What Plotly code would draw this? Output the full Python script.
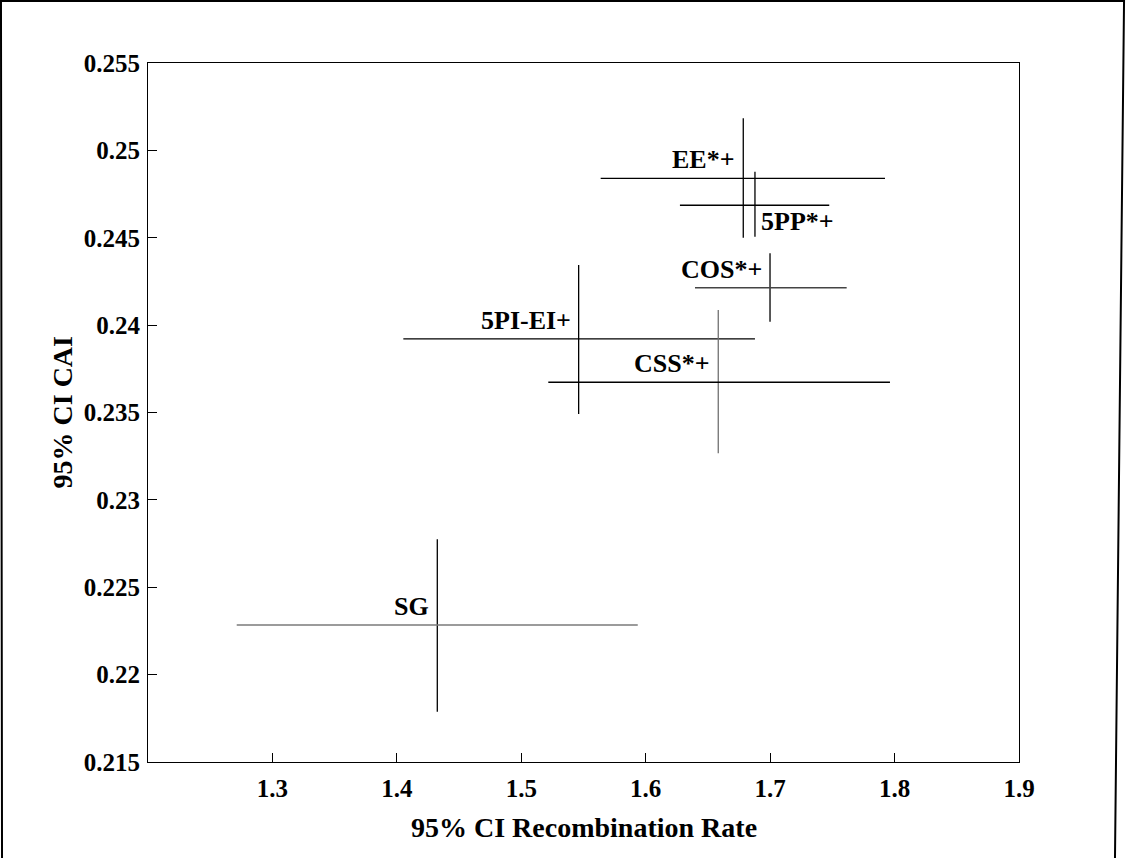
import plotly.graph_objects as go

# 95% confidence intervals per gene class
names = ["SG", "5PI-EI+", "CSS*+", "COS*+", "EE*+", "5PP*+"]
rec_mid = [1.4325, 1.5461, 1.6583, 1.6999, 1.6784, 1.6878]
rec_lo = [1.2713, 1.4052, 1.5217, 1.6396, 1.5638, 1.6275]
rec_hi = [1.5936, 1.6878, 1.7963, 1.7615, 1.7923, 1.7475]
cai_mid = [0.22284, 0.23921, 0.23673, 0.24214, 0.24840, 0.24686]
cai_lo = [0.21788, 0.23491, 0.23267, 0.24020, 0.24500, 0.24506]
cai_hi = [0.22774, 0.24344, 0.24087, 0.24411, 0.25184, 0.24878]

xticks = [1.3, 1.4, 1.5, 1.6, 1.7, 1.8, 1.9]
yticks = [0.215, 0.22, 0.225, 0.23, 0.235, 0.24, 0.245, 0.25, 0.255]

# line colours as scanned (some bars print grey)
hcol = {"SG": "#7a7a7a", "COS*+": "#444444"}
vcol = {"CSS*+": "#707070"}

FONT = "Liberation Serif, Times New Roman, serif"

fig = go.Figure()
for i, n in enumerate(names):
    fig.add_trace(go.Scatter(
        x=[rec_mid[i]], y=[cai_mid[i]], mode="markers",
        marker=dict(size=1, opacity=0),
        error_x=dict(type="data", symmetric=False,
                     array=[rec_hi[i] - rec_mid[i]],
                     arrayminus=[rec_mid[i] - rec_lo[i]],
                     width=0, thickness=1.3, color=hcol.get(n, "black")),
        error_y=dict(type="data", symmetric=False,
                     array=[cai_hi[i] - cai_mid[i]],
                     arrayminus=[cai_mid[i] - cai_lo[i]],
                     width=0, thickness=1.3, color=vcol.get(n, "black")),
        showlegend=False, hoverinfo="skip"))

    # labels sit up-left of the crossing, except 5PP which goes down-right
    if n == "5PP*+":
        fig.add_annotation(x=rec_mid[i], y=cai_mid[i], text="<b>%s</b>" % n,
                           showarrow=False, xanchor="left", yanchor="top",
                           xshift=4, yshift=0,
                           font=dict(family=FONT, size=26, color="black"))
    else:
        fig.add_annotation(x=rec_mid[i], y=cai_mid[i], text="<b>%s</b>" % n,
                           showarrow=False, xanchor="right", yanchor="bottom",
                           xshift=-6, yshift=2,
                           font=dict(family=FONT, size=26, color="black"))

# axis titles placed as annotations to match the scan
fig.add_annotation(xref="paper", yref="paper", x=0.5, y=-0.094,
                   text="<b>95% CI Recombination Rate</b>", showarrow=False,
                   xanchor="center", yanchor="middle",
                   font=dict(family=FONT, size=28, color="black"))
fig.add_annotation(xref="paper", yref="paper", x=-0.0976, y=0.5,
                   text="<b>95% CI CAI</b>", showarrow=False, textangle=-90,
                   xanchor="center", yanchor="middle",
                   font=dict(family=FONT, size=28, color="black"))

# outer frame of the scanned figure
fig.add_shape(type="path", xref="paper", yref="paper",
              path="M -0.1676 -0.1373 L -0.1688 1.0887 L 1.1206 1.0887 L 1.1102 -0.1373",
              line=dict(color="black", width=2))

axis_common = dict(showgrid=False, zeroline=False, showline=True, mirror=True,
                   linecolor="black", linewidth=1, ticks="inside", ticklen=9,
                   tickwidth=1, tickcolor="black",
                   tickfont=dict(family=FONT, size=25, color="black"))

fig.update_xaxes(range=[1.2, 1.9], tickvals=xticks,
                 ticktext=["<b>%g</b>" % t for t in xticks],
                 ticklabelstandoff=4, **axis_common)
fig.update_yaxes(range=[0.215, 0.255], tickvals=yticks,
                 ticktext=["<b>%g</b>" % t for t in yticks],
                 ticklabelstandoff=2, **axis_common)

fig.update_layout(width=1127, height=858,
                  margin=dict(l=148, r=108, t=63, b=96, autoexpand=False),
                  plot_bgcolor="white", paper_bgcolor="white")

fig.write_html("out.html", config={"displayModeBar": False},
               post_script="document.body.style.margin='0';")
